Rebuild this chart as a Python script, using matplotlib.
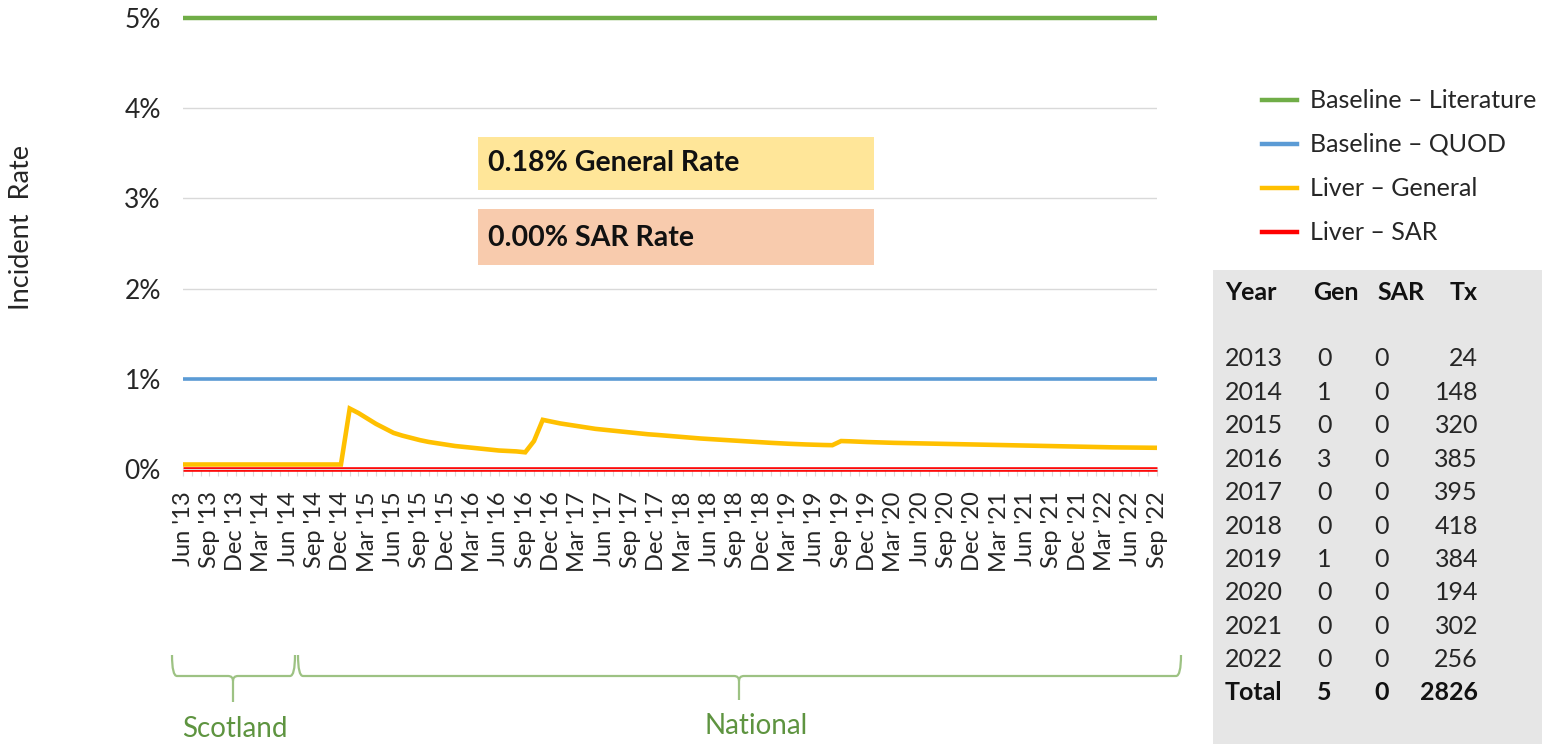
import matplotlib
matplotlib.use("Agg")
import matplotlib.pyplot as plt
import numpy as np
from matplotlib.patches import Rectangle, PathPatch
from matplotlib.path import Path
from matplotlib.lines import Line2D

# ---------------- data ----------------
tick_labels = ["Jun '13", "Sep '13", "Dec '13", "Mar '14", "Jun '14", "Sep '14", "Dec '14",
               "Mar '15", "Jun '15", "Sep '15", "Dec '15", "Mar '16", "Jun '16", "Sep '16",
               "Dec '16", "Mar '17", "Jun '17", "Sep '17", "Dec '17", "Mar '18", "Jun '18",
               "Sep '18", "Dec '18", "Mar '19", "Jun '19", "Sep '19", "Dec '19", "Mar '20",
               "Jun '20", "Sep '20", "Dec '20", "Mar '21", "Jun '21", "Sep '21", "Dec '21",
               "Mar '22", "Jun '22", "Sep '22"]

baseline_literature = 5.0   # %
baseline_quod = 1.0         # %
liver_sar_rate = 0.0        # %

liver_general = [
    0.05, 0.05, 0.05, 0.05, 0.05, 0.05, 0.05, 0.05, 0.05, 0.05,
    0.05, 0.05, 0.05, 0.05, 0.05, 0.05, 0.05, 0.05, 0.05,
    0.67, 0.62, 0.56, 0.50, 0.45, 0.40, 0.37, 0.345, 0.32, 0.30,
    0.285, 0.27, 0.255, 0.245, 0.235, 0.225, 0.215, 0.205, 0.20, 0.195,
    0.185, 0.31, 0.545,
    0.525, 0.505, 0.49, 0.475, 0.46, 0.445, 0.435, 0.425, 0.415, 0.405,
    0.395, 0.385, 0.378, 0.37, 0.362, 0.354, 0.346, 0.338, 0.332, 0.326,
    0.32, 0.314, 0.308, 0.302, 0.296, 0.29, 0.285, 0.28, 0.276, 0.272,
    0.269, 0.266, 0.264,
    0.31, 0.307, 0.303, 0.299, 0.296, 0.293, 0.29, 0.288, 0.286, 0.284,
    0.282, 0.28, 0.278, 0.276, 0.274, 0.272, 0.27, 0.268, 0.266, 0.264,
    0.262, 0.26, 0.258, 0.256, 0.254, 0.252, 0.25, 0.248, 0.246, 0.244,
    0.242, 0.24, 0.239, 0.238, 0.237, 0.236, 0.235,
]

general_rate_text = "0.18% General Rate"
sar_rate_text = "0.00% SAR Rate"

table_years = ["2013", "2014", "2015", "2016", "2017", "2018", "2019", "2020", "2021", "2022"]
table_gen = [0, 1, 0, 3, 0, 0, 1, 0, 0, 0]
table_sar = [0, 0, 0, 0, 0, 0, 0, 0, 0, 0]
table_tx = [24, 148, 320, 385, 395, 418, 384, 194, 302, 256]

# ---------------- figure ----------------
W, H = 1542, 744
fig = plt.figure(figsize=(W / 100, H / 100), dpi=100)
plt.rcParams['font.family'] = ['Lato', 'DejaVu Sans']
FS = 17
FS_T = 18
TXT = '#262626'
BLK = '#111111'


def fx(px):
    return px / W


def fy(py):
    return 1 - py / H


ax = fig.add_axes([fx(183), fy(469), fx(1157) - fx(183), fy(18) - fy(469)])
n = len(liver_general)
x = np.arange(n)

c_green, c_blue, c_yellow, c_red = '#70AD47', '#5B9BD5', '#FFC000', '#FF0000'
l1, = ax.plot(x, [baseline_literature] * n, color=c_green, lw=3.2, clip_on=False,
              label='Baseline – Literature', solid_capstyle='butt')
l2, = ax.plot(x, [baseline_quod] * n, color=c_blue, lw=2.6, clip_on=False,
              label='Baseline – QUOD', solid_capstyle='butt')
l3, = ax.plot(x, liver_general, color=c_yellow, lw=3.3, clip_on=False,
              label='Liver – General', solid_capstyle='butt', solid_joinstyle='miter')
l4, = ax.plot(x, [liver_sar_rate] * n, color=c_red, lw=3.3, clip_on=False,
              label='Liver – SAR', solid_capstyle='butt')

ax.set_xlim(0, n - 1)
ax.set_ylim(0, 5)
ax.set_yticks([0, 1, 2, 3, 4, 5])
ax.set_yticklabels([f"{v}%" for v in range(6)])
ax.yaxis.grid(True, color='#D9D9D9', lw=1)
ax.set_axisbelow(True)
for s in ['left', 'right', 'top']:
    ax.spines[s].set_visible(False)
ax.spines['bottom'].set_color('#D9D9D9')
ax.tick_params(axis='y', length=0, pad=16, labelsize=19, labelcolor=TXT)

ax.set_xticks(x)
lbls = [''] * n
for i, t in enumerate(tick_labels):
    lbls[i * 3] = t
ax.set_xticklabels(lbls, rotation=90)
ax.tick_params(axis='x', length=5, color='#D9D9D9', pad=11, labelsize=FS, labelcolor=TXT)

fig.text(fx(22), fy(228), 'Incident  Rate', rotation=90, ha='center', va='center',
         fontsize=19.5, color=TXT)

# ---------------- rate boxes ----------------
fig.add_artist(Rectangle((fx(478), fy(190)), fx(874) - fx(478), fy(137) - fy(190),
                         transform=fig.transFigure, facecolor='#FFE699', edgecolor='none'))
fig.add_artist(Rectangle((fx(478), fy(265)), fx(874) - fx(478), fy(209) - fy(265),
                         transform=fig.transFigure, facecolor='#F8CBAD', edgecolor='none'))
fig.text(fx(488), fy(163), general_rate_text, fontsize=20.5, fontweight='bold',
         ha='left', va='center', color=BLK)
fig.text(fx(488), fy(238), sar_rate_text, fontsize=20.5, fontweight='bold',
         ha='left', va='center', color=BLK)

# ---------------- legend ----------------
leg_y = [100, 144, 188, 232]
for line, yy in zip([l1, l2, l3, l4], leg_y):
    fig.add_artist(Line2D([fx(1262), fx(1297)], [fy(yy), fy(yy)], transform=fig.transFigure,
                          color=line.get_color(), lw=3.2))
    fig.text(fx(1310), fy(yy), line.get_label(), fontsize=FS_T, ha='left', va='center', color=TXT)

# ---------------- table ----------------
fig.add_artist(Rectangle((fx(1213), 0), 1 - fx(1213), fy(270), transform=fig.transFigure,
                         facecolor='#E6E6E6', edgecolor='none'))
hy = 293
fig.text(fx(1225), fy(hy), 'Year', fontsize=FS_T, fontweight='bold', ha='left', va='center', color=BLK)
fig.text(fx(1313), fy(hy), 'Gen', fontsize=FS_T, fontweight='bold', ha='left', va='center', color=BLK)
fig.text(fx(1377), fy(hy), 'SAR', fontsize=FS_T, fontweight='bold', ha='left', va='center', color=BLK)
fig.text(fx(1478), fy(hy), 'Tx', fontsize=FS_T, fontweight='bold', ha='right', va='center', color=BLK)
row0, dy = 359, 33.4
for i, (yr, g, s, t) in enumerate(zip(table_years, table_gen, table_sar, table_tx)):
    yy = row0 + i * dy
    fig.text(fx(1225), fy(yy), yr, fontsize=FS_T, ha='left', va='center', color=TXT)
    fig.text(fx(1317), fy(yy), str(g), fontsize=FS_T, ha='left', va='center', color=TXT)
    fig.text(fx(1374), fy(yy), str(s), fontsize=FS_T, ha='left', va='center', color=TXT)
    fig.text(fx(1478), fy(yy), str(t), fontsize=FS_T, ha='right', va='center', color=TXT)
yy = row0 + len(table_years) * dy
fig.text(fx(1225), fy(yy), 'Total', fontsize=FS_T, fontweight='bold', ha='left', va='center', color=BLK)
fig.text(fx(1317), fy(yy), str(sum(table_gen)), fontsize=FS_T, fontweight='bold', ha='left', va='center', color=BLK)
fig.text(fx(1374), fy(yy), str(sum(table_sar)), fontsize=FS_T, fontweight='bold', ha='left', va='center', color=BLK)
fig.text(fx(1478), fy(yy), str(sum(table_tx)), fontsize=FS_T, fontweight='bold', ha='right', va='center', color=BLK)

# ---------------- braces ----------------
def brace(x0, x1, xm, ytop, yh, ytip):
    r = 5
    verts = [(x0, ytop), (x0, yh), (x0 + r, yh),
             (xm - r, yh), (xm, yh), (xm, yh + r),
             (xm, ytip),
             (xm, yh + r), (xm, yh), (xm + r, yh),
             (x1 - r, yh), (x1, yh), (x1, ytop)]
    codes = [Path.MOVETO, Path.CURVE3, Path.CURVE3,
             Path.LINETO, Path.CURVE3, Path.CURVE3,
             Path.LINETO,
             Path.MOVETO, Path.CURVE3, Path.CURVE3,
             Path.LINETO, Path.CURVE3, Path.CURVE3]
    verts = [(fx(a), fy(b)) for a, b in verts]
    fig.add_artist(PathPatch(Path(verts, codes), transform=fig.transFigure,
                             facecolor='none', edgecolor='#9DC283', lw=1.6))


brace(172, 295, 233, 655, 676, 702)
brace(298, 1181, 739, 655, 676, 700)
fig.text(fx(235), fy(729), 'Scotland', fontsize=20, ha='center', va='center', color='#5E9440')
fig.text(fx(756), fy(726), 'National', fontsize=20, ha='center', va='center', color='#5E9440')

fig.savefig('out.png', dpi=100)
